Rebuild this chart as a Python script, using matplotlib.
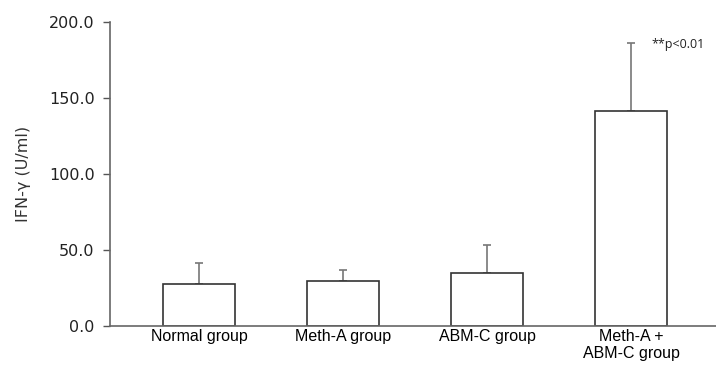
import numpy as np
import matplotlib
matplotlib.use('Agg')
import matplotlib.pyplot as plt

# Data
groups = ['Normal group', 'Meth-A group', 'ABM-C group', 'Meth-A +\nABM-C group']
means = [27.5, 29.5, 35.0, 141.5]
errors = [14.0, 7.5, 18.5, 44.5]
yticks = [0, 50, 100, 150, 200]

fig = plt.figure(figsize=(7.16, 3.65), dpi=100)
ax = fig.add_axes([110 / 716, 1 - 326 / 365, 606 / 716, 304 / 365])

x = np.arange(len(groups))
ax.bar(x, means, width=0.5, color='white', edgecolor='#333333', linewidth=1.2, zorder=2)
ax.errorbar(x, means, yerr=[np.zeros(len(errors)), errors], fmt='none',
            ecolor='#777777', elinewidth=1.2, capsize=3, capthick=1.2, zorder=1)

ax.set_xlim(-0.62, 3.59)
ax.set_ylim(0, 200)
ax.set_yticks(yticks)
ax.set_yticklabels(['%.1f' % v for v in yticks], family='DejaVu Sans', fontsize=11.5,
                   color='#222222')
ax.set_xticks(x)
ax.set_xticklabels(groups, family='Liberation Sans', fontsize=11.5, color='black',
                   linespacing=1.15, va='top')
ax.tick_params(axis='x', length=0, pad=2)
ax.tick_params(axis='y', length=5, width=1, color='#555555', pad=6)

for side in ['top', 'right']:
    ax.spines[side].set_visible(False)
for side in ['left', 'bottom']:
    ax.spines[side].set_color('#666666')
    ax.spines[side].set_linewidth(1.2)

ax.set_ylabel('IFN-γ (U/ml)', family='DejaVu Sans', fontsize=11.5, color='#333333',
              labelpad=13)

ax.text(3.14, 185, '**p<0.01', family='Open Sans', fontsize=9, color='#222222',
        va='center', ha='left')

fig.savefig('out.png', dpi=100)
